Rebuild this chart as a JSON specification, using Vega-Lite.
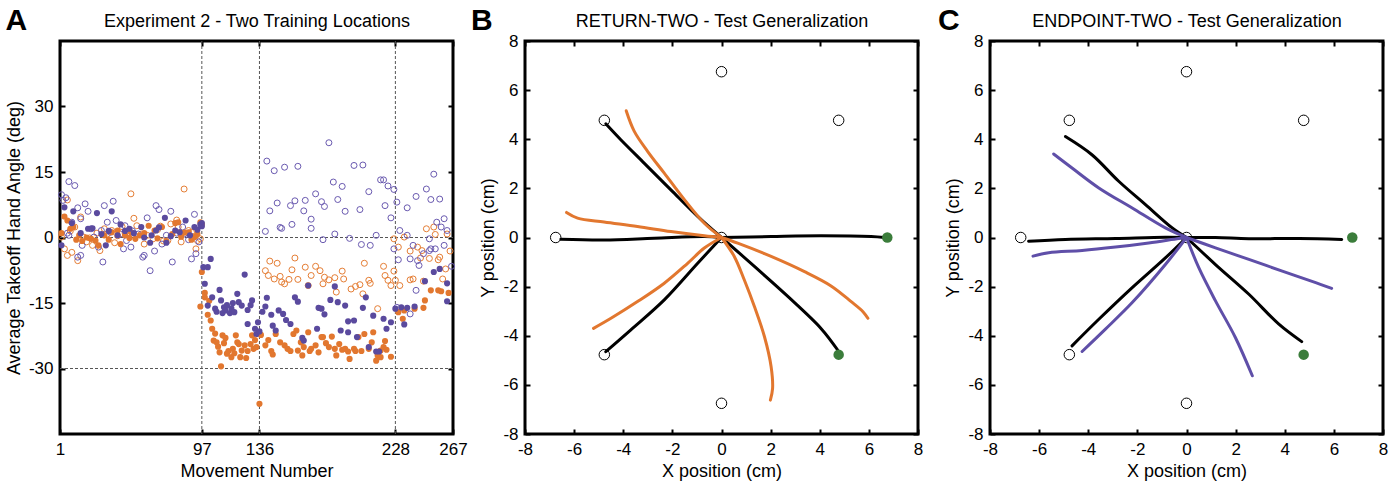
{
  "$schema": "https://vega.github.io/schema/vega-lite/v6.json",
  "background": "white",
  "padding": {"left": 3, "top": 4, "right": 10, "bottom": 1},
  "config": {
    "font": "Liberation Sans",
    "view": {"stroke": "black", "strokeWidth": 3},
    "axis": {"domain": false, "grid": false, "tickSize": -5, "tickWidth": 2, "tickColor": "black", "labelFontSize": 17, "labelColor": "black", "labelFlush": false, "labelOverlap": false, "labelBound": false, "titleFontSize": 18, "titleFontWeight": "normal", "titleColor": "black", "titlePadding": 5, "labelExpr": "replace(datum.label, '\u2212', '-')"},
    "axisX": {"labelPadding": 12},
    "axisY": {"labelPadding": 12},
    "title": {"fontSize": 30, "fontWeight": "bold", "color": "black", "anchor": "start", "frame": "bounds", "baseline": "alphabetic", "offset": -24}
  },
  "spacing": 72,
  "bounds": "flush",
  "resolve": {"scale": {"color": "independent"}},
  "datasets": {
    "gridV": [{"m": 97}, {"m": 136}, {"m": 228}],
    "gridH": [{"v": 0}, {"v": -30}],
    "returnProbe": [
      {"m":2,"v":0.1},{"m":4,"v":-2.6},{"m":6,"v":-4.1},{"m":6,"v":8.6},{"m":8,"v":1.5},{"m":9,"v":-3.4},{"m":11,"v":2.4},{"m":13,"v":-5.3},{"m":15,"v":4.7},{"m":17,"v":0.1},{"m":19,"v":-1.0},{"m":21,"v":-0.1},{"m":23,"v":-1.8},{"m":26,"v":1.0},{"m":28,"v":-3.0},{"m":31,"v":2.0},{"m":33,"v":0.8},{"m":36,"v":1.6},{"m":38,"v":-1.2},{"m":40,"v":0.4},{"m":43,"v":2.5},{"m":45,"v":1.1},{"m":49,"v":10.0},{"m":51,"v":4.4},{"m":53,"v":2.7},{"m":56,"v":0.8},{"m":58,"v":-1.5},{"m":60,"v":0.5},{"m":64,"v":-0.3},{"m":67,"v":1.8},{"m":69,"v":2.6},{"m":71,"v":-0.8},{"m":74,"v":-0.7},{"m":76,"v":3.1},{"m":80,"v":4.0},{"m":81,"v":2.4},{"m":83,"v":-1.0},{"m":85,"v":11.1},{"m":88,"v":1.6},{"m":90,"v":1.2},{"m":91,"v":0.2},{"m":93,"v":-2.6},{"m":94,"v":-0.7},{"m":96,"v":-0.3},
      {"m":140,"v":-7.6},{"m":142,"v":-8.7},{"m":143,"v":-5.4},{"m":146,"v":-9.5},{"m":148,"v":-5.9},{"m":150,"v":-8.9},{"m":151,"v":-10.2},{"m":153,"v":-10.6},{"m":156,"v":-9.6},{"m":158,"v":-7.4},{"m":160,"v":-4.7},{"m":162,"v":-9.6},{"m":167,"v":-6.8},{"m":169,"v":-11.0},{"m":171,"v":-8.7},{"m":174,"v":-6.6},{"m":177,"v":-7.6},{"m":179,"v":-10.6},{"m":180,"v":-9.1},{"m":183,"v":-9.7},{"m":187,"v":-9.2},{"m":188,"v":-12.5},{"m":192,"v":-7.7},{"m":193,"v":-9.5},{"m":198,"v":-11.8},{"m":201,"v":-11.2},{"m":204,"v":-10.8},{"m":206,"v":-12.9},{"m":207,"v":-5.9},{"m":210,"v":-9.8},{"m":211,"v":-10.5},{"m":216,"v":-16.3},{"m":220,"v":-6.6},{"m":221,"v":-8.7},{"m":223,"v":-9.8},{"m":225,"v":-11.0},{"m":227,"v":-7.7},{"m":227,"v":-0.3},{"m":228,"v":-9.8},{"m":230,"v":-2.2},{"m":231,"v":-11.0},{"m":234,"v":0.1},{"m":238,"v":-3.1},{"m":238,"v":-9.7},{"m":240,"v":-9.5},{"m":243,"v":-2.2},{"m":245,"v":-4.7},{"m":246,"v":-3.0},{"m":247,"v":-10.0},{"m":249,"v":2.0},{"m":251,"v":-4.8},{"m":254,"v":2.4},{"m":255,"v":0.7},{"m":257,"v":-5.1},{"m":258,"v":-4.5},{"m":260,"v":-9.5},{"m":262,"v":-7.2},{"m":263,"v":0.8},{"m":265,"v":-3.1}
    ],
    "endpointProbe": [
      {"m":2,"v":9.8},{"m":3,"v":8.5},{"m":5,"v":9.1},{"m":6,"v":1.0},{"m":7,"v":12.8},{"m":7,"v":0.5},{"m":9,"v":3.5},{"m":11,"v":11.9},{"m":13,"v":6.8},{"m":13,"v":-4.5},{"m":15,"v":4.3},{"m":15,"v":-4.1},{"m":16,"v":-1.8},{"m":18,"v":7.7},{"m":20,"v":6.0},{"m":22,"v":2.0},{"m":24,"v":0.1},{"m":27,"v":-2.2},{"m":29,"v":1.6},{"m":30,"v":-5.6},{"m":31,"v":7.3},{"m":33,"v":3.5},{"m":35,"v":1.2},{"m":37,"v":8.3},{"m":39,"v":3.9},{"m":42,"v":0.8},{"m":44,"v":-2.6},{"m":45,"v":2.7},{"m":46,"v":-0.7},{"m":49,"v":-2.2},{"m":50,"v":1.5},{"m":54,"v":0.8},{"m":57,"v":-4.5},{"m":58,"v":-4.1},{"m":60,"v":4.5},{"m":62,"v":-7.6},{"m":65,"v":-3.1},{"m":66,"v":7.3},{"m":68,"v":6.4},{"m":70,"v":-1.5},{"m":73,"v":0.5},{"m":76,"v":6.0},{"m":77,"v":-5.6},{"m":80,"v":1.0},{"m":84,"v":2.4},{"m":85,"v":0.8},{"m":88,"v":-0.5},{"m":90,"v":-4.9},{"m":92,"v":5.3},{"m":93,"v":-3.7},{"m":95,"v":-1.0},
      {"m":140,"v":1.4},{"m":141,"v":17.5},{"m":143,"v":6.1},{"m":146,"v":15.3},{"m":148,"v":7.9},{"m":150,"v":2.3},{"m":151,"v":2.1},{"m":153,"v":16.1},{"m":157,"v":7.3},{"m":158,"v":3.0},{"m":160,"v":8.4},{"m":162,"v":16.3},{"m":166,"v":6.1},{"m":167,"v":8.5},{"m":171,"v":4.2},{"m":171,"v":2.1},{"m":174,"v":10.0},{"m":178,"v":8.2},{"m":179,"v":-0.5},{"m":180,"v":7.1},{"m":183,"v":21.7},{"m":186,"v":12.7},{"m":187,"v":0.8},{"m":189,"v":8.7},{"m":192,"v":11.7},{"m":194,"v":6.0},{"m":197,"v":-0.2},{"m":200,"v":16.5},{"m":204,"v":6.4},{"m":205,"v":-1.6},{"m":206,"v":16.6},{"m":210,"v":10.5},{"m":211,"v":-1.8},{"m":215,"v":0.5},{"m":218,"v":13.2},{"m":220,"v":13.2},{"m":221,"v":7.3},{"m":223,"v":11.8},{"m":225,"v":4.5},{"m":227,"v":11.0},{"m":227,"v":-2.6},{"m":229,"v":8.1},{"m":229,"v":-16.0},{"m":230,"v":-5.1},{"m":231,"v":1.6},{"m":236,"v":6.8},{"m":236,"v":0.5},{"m":238,"v":-4.9},{"m":238,"v":-17.5},{"m":240,"v":-1.8},{"m":242,"v":9.4},{"m":242,"v":-12.1},{"m":243,"v":-5.3},{"m":244,"v":-6.4},{"m":247,"v":-3.7},{"m":249,"v":11.1},{"m":251,"v":-0.3},{"m":251,"v":-3.0},{"m":252,"v":8.7},{"m":252,"v":-2.6},{"m":254,"v":14.5},{"m":255,"v":-2.6},{"m":256,"v":3.5},{"m":258,"v":8.8},{"m":259,"v":2.4},{"m":261,"v":4.3},{"m":261,"v":-1.8},{"m":263,"v":1.6},{"m":266,"v":-6.6}
    ],
    "returnTrain": [
      {"m":2,"v":1.0},{"m":4,"v":4.8},{"m":6,"v":3.9},{"m":8,"v":2.0},{"m":10,"v":2.4},{"m":12,"v":-0.5},{"m":14,"v":0.5},{"m":16,"v":-0.8},{"m":19,"v":0.0},{"m":22,"v":-0.3},{"m":25,"v":-0.7},{"m":27,"v":-1.8},{"m":31,"v":0.5},{"m":34,"v":-0.5},{"m":36,"v":1.2},{"m":40,"v":1.6},{"m":42,"v":-1.5},{"m":45,"v":0.5},{"m":48,"v":-0.1},{"m":49,"v":1.2},{"m":52,"v":-0.3},{"m":55,"v":0.5},{"m":58,"v":1.0},{"m":61,"v":2.7},{"m":65,"v":1.6},{"m":67,"v":-0.2},{"m":70,"v":2.4},{"m":73,"v":-0.8},{"m":77,"v":0.8},{"m":79,"v":3.3},{"m":81,"v":3.5},{"m":83,"v":0.2},{"m":85,"v":1.1},{"m":88,"v":1.2},{"m":90,"v":-0.5},{"m":92,"v":0.1},{"m":94,"v":0.8},{"m":96,"v":3.5},{"m":97,"v":3.0},
      {"m":97,"v":-7.9},{"m":96,"v":-15.8},{"m":99,"v":-12.7},{"m":99,"v":-13.7},{"m":101,"v":-17.7},{"m":102,"v":-14.5},{"m":103,"v":-19.0},{"m":104,"v":-20.9},{"m":105,"v":-23.6},{"m":106,"v":-22.0},{"m":107,"v":-24.0},{"m":108,"v":-25.0},{"m":109,"v":-26.3},{"m":110,"v":-29.5},{"m":111,"v":-22.4},{"m":112,"v":-24.2},{"m":113,"v":-23.0},{"m":114,"v":-26.6},{"m":115,"v":-26.0},{"m":117,"v":-27.4},{"m":118,"v":-25.5},{"m":119,"v":-26.5},{"m":120,"v":-22.4},{"m":121,"v":-24.0},{"m":122,"v":-24.4},{"m":123,"v":-27.4},{"m":124,"v":-25.9},{"m":126,"v":-24.7},{"m":127,"v":-27.6},{"m":128,"v":-26.0},{"m":130,"v":-24.4},{"m":131,"v":-22.4},{"m":132,"v":-25.5},{"m":133,"v":-23.5},{"m":134,"v":-25.1},{"m":136,"v":-38.1},{"m":137,"v":-22.3},{"m":140,"v":-24.7},{"m":142,"v":-23.5},{"m":144,"v":-26.0},{"m":145,"v":-26.8},{"m":147,"v":-22.1},{"m":150,"v":-24.0},{"m":153,"v":-24.7},{"m":155,"v":-25.5},{"m":157,"v":-26.0},{"m":159,"v":-22.1},{"m":161,"v":-21.3},{"m":162,"v":-25.9},{"m":164,"v":-24.0},{"m":165,"v":-27.0},{"m":166,"v":-25.1},{"m":169,"v":-21.7},{"m":170,"v":-26.0},{"m":171,"v":-25.5},{"m":174,"v":-24.7},{"m":176,"v":-26.3},{"m":178,"v":-22.8},{"m":179,"v":-22.8},{"m":181,"v":-24.2},{"m":183,"v":-25.1},{"m":185,"v":-22.7},{"m":187,"v":-25.5},{"m":188,"v":-27.0},{"m":190,"v":-24.4},{"m":192,"v":-25.7},{"m":194,"v":-25.5},{"m":196,"v":-26.1},{"m":197,"v":-27.8},{"m":200,"v":-25.5},{"m":201,"v":-26.0},{"m":203,"v":-22.8},{"m":205,"v":-26.0},{"m":207,"v":-22.1},{"m":210,"v":-25.5},{"m":212,"v":-24.0},{"m":213,"v":-21.7},{"m":215,"v":-28.2},{"m":216,"v":-27.0},{"m":218,"v":-25.9},{"m":218,"v":-27.4},{"m":220,"v":-25.1},{"m":221,"v":-23.7},{"m":222,"v":-25.7},{"m":225,"v":-27.3},
      {"m":230,"v":-17.1},{"m":233,"v":-18.6},{"m":234,"v":-16.7},{"m":241,"v":-16.3},{"m":247,"v":-16.1},{"m":248,"v":-14.4},{"m":252,"v":-12.1},{"m":257,"v":-12.1},{"m":259,"v":-12.3},{"m":264,"v":-12.7}
    ],
    "endpointTrain": [
      {"m":2,"v":-1.8},{"m":4,"v":6.9},{"m":9,"v":3.3},{"m":10,"v":6.0},{"m":15,"v":1.0},{"m":20,"v":2.0},{"m":23,"v":2.1},{"m":26,"v":5.6},{"m":29,"v":0.8},{"m":32,"v":-1.8},{"m":34,"v":1.5},{"m":36,"v":6.0},{"m":40,"v":0.5},{"m":42,"v":3.0},{"m":45,"v":1.5},{"m":48,"v":2.0},{"m":51,"v":1.0},{"m":56,"v":2.4},{"m":58,"v":0.0},{"m":62,"v":-1.2},{"m":63,"v":0.5},{"m":66,"v":1.6},{"m":68,"v":2.3},{"m":72,"v":4.5},{"m":73,"v":-1.2},{"m":76,"v":0.3},{"m":79,"v":1.6},{"m":82,"v":1.2},{"m":86,"v":3.9},{"m":89,"v":0.5},{"m":92,"v":2.4},{"m":94,"v":1.8},{"m":96,"v":3.0},{"m":97,"v":3.3},{"m":97,"v":2.6},
      {"m":98,"v":-6.8},{"m":99,"v":-10.6},{"m":101,"v":-6.8},{"m":103,"v":-4.9},{"m":101,"v":-15.6},{"m":104,"v":-13.7},{"m":106,"v":-16.3},{"m":107,"v":-17.0},{"m":109,"v":-12.0},{"m":110,"v":-14.4},{"m":111,"v":-17.3},{"m":112,"v":-16.0},{"m":113,"v":-16.7},{"m":114,"v":-15.5},{"m":116,"v":-17.3},{"m":117,"v":-16.2},{"m":118,"v":-15.0},{"m":119,"v":-17.1},{"m":121,"v":-12.9},{"m":122,"v":-14.8},{"m":124,"v":-15.6},{"m":126,"v":-8.5},{"m":128,"v":-16.6},{"m":128,"v":-19.8},{"m":130,"v":-15.5},{"m":131,"v":-14.4},{"m":133,"v":-20.9},{"m":134,"v":-22.1},{"m":135,"v":-19.4},{"m":136,"v":-21.5},{"m":138,"v":-17.0},{"m":140,"v":-15.8},{"m":141,"v":-13.8},{"m":144,"v":-17.7},{"m":145,"v":-20.2},{"m":147,"v":-21.3},{"m":149,"v":-16.7},{"m":152,"v":-17.5},{"m":154,"v":-18.9},{"m":157,"v":-19.8},{"m":160,"v":-13.7},{"m":162,"v":-14.7},{"m":165,"v":-23.0},{"m":166,"v":-23.6},{"m":169,"v":-11.0},{"m":175,"v":-20.9},{"m":176,"v":-16.1},{"m":178,"v":-16.3},{"m":180,"v":-17.6},{"m":184,"v":-14.3},{"m":187,"v":-11.2},{"m":189,"v":-14.8},{"m":191,"v":-21.3},{"m":194,"v":-15.6},{"m":196,"v":-21.7},{"m":196,"v":-19.2},{"m":200,"v":-19.0},{"m":202,"v":-22.8},{"m":206,"v":-16.1},{"m":208,"v":-13.7},{"m":210,"v":-25.1},{"m":213,"v":-17.9},{"m":215,"v":-26.1},{"m":217,"v":-26.1},{"m":220,"v":-18.6},{"m":222,"v":-20.9},{"m":225,"v":-19.4},
      {"m":228,"v":-16.3},{"m":232,"v":-16.0},{"m":234,"v":-19.9},{"m":236,"v":-16.1},{"m":241,"v":-15.8},{"m":248,"v":-10.0},{"m":254,"v":-7.9},{"m":258,"v":-7.2},{"m":263,"v":-10.5},{"m":263,"v":-14.6}
    ],
    "targets": [
      {"x":0,"y":6.75,"status":"untrained"},{"x":4.77,"y":4.77,"status":"untrained"},{"x":-4.77,"y":4.77,"status":"untrained"},{"x":-6.75,"y":0,"status":"untrained"},{"x":-4.77,"y":-4.77,"status":"untrained"},{"x":0,"y":-6.75,"status":"untrained"},{"x":0,"y":0,"status":"start"},{"x":6.75,"y":0,"status":"trained"},{"x":4.77,"y":-4.77,"status":"trained"}
    ],
    "traj": [
      {"p":"RETURN","id":"b1","kind":"baseline","i":0,"x":0,"y":0},{"p":"RETURN","id":"b1","kind":"baseline","i":1,"x":-0.97,"y":0.86},{"p":"RETURN","id":"b1","kind":"baseline","i":2,"x":-2.06,"y":1.94},{"p":"RETURN","id":"b1","kind":"baseline","i":3,"x":-3.15,"y":3.03},{"p":"RETURN","id":"b1","kind":"baseline","i":4,"x":-4.1,"y":3.98},{"p":"RETURN","id":"b1","kind":"baseline","i":5,"x":-4.71,"y":4.63},
      {"p":"RETURN","id":"b2","kind":"baseline","i":0,"x":0,"y":0},{"p":"RETURN","id":"b2","kind":"baseline","i":1,"x":-0.7,"y":0.04},{"p":"RETURN","id":"b2","kind":"baseline","i":2,"x":-2.74,"y":-0.03},{"p":"RETURN","id":"b2","kind":"baseline","i":3,"x":-4.78,"y":-0.1},{"p":"RETURN","id":"b2","kind":"baseline","i":4,"x":-6.54,"y":-0.07},
      {"p":"RETURN","id":"b3","kind":"baseline","i":0,"x":0,"y":0},{"p":"RETURN","id":"b3","kind":"baseline","i":1,"x":2.02,"y":0.04},{"p":"RETURN","id":"b3","kind":"baseline","i":2,"x":4.05,"y":0.07},{"p":"RETURN","id":"b3","kind":"baseline","i":3,"x":6.09,"y":0.04},{"p":"RETURN","id":"b3","kind":"baseline","i":4,"x":6.63,"y":0.0},
      {"p":"RETURN","id":"b4","kind":"baseline","i":0,"x":0,"y":0},{"p":"RETURN","id":"b4","kind":"baseline","i":1,"x":1.34,"y":-1.18},{"p":"RETURN","id":"b4","kind":"baseline","i":2,"x":2.7,"y":-2.4},{"p":"RETURN","id":"b4","kind":"baseline","i":3,"x":4.05,"y":-3.7},{"p":"RETURN","id":"b4","kind":"baseline","i":4,"x":4.73,"y":-4.58},
      {"p":"RETURN","id":"b5","kind":"baseline","i":0,"x":0,"y":0},{"p":"RETURN","id":"b5","kind":"baseline","i":1,"x":-0.97,"y":-1.05},{"p":"RETURN","id":"b5","kind":"baseline","i":2,"x":-2.33,"y":-2.54},{"p":"RETURN","id":"b5","kind":"baseline","i":3,"x":-3.69,"y":-3.76},{"p":"RETURN","id":"b5","kind":"baseline","i":4,"x":-4.71,"y":-4.65},
      {"p":"RETURN","id":"o1","kind":"generalization","i":0,"x":0,"y":0},{"p":"RETURN","id":"o1","kind":"generalization","i":1,"x":-0.7,"y":0.58},{"p":"RETURN","id":"o1","kind":"generalization","i":2,"x":-1.51,"y":1.54},{"p":"RETURN","id":"o1","kind":"generalization","i":3,"x":-2.33,"y":2.62},{"p":"RETURN","id":"o1","kind":"generalization","i":4,"x":-3.01,"y":3.51},{"p":"RETURN","id":"o1","kind":"generalization","i":5,"x":-3.55,"y":4.32},{"p":"RETURN","id":"o1","kind":"generalization","i":6,"x":-3.88,"y":5.16},
      {"p":"RETURN","id":"o2","kind":"generalization","i":0,"x":0,"y":0},{"p":"RETURN","id":"o2","kind":"generalization","i":1,"x":-0.7,"y":0.07},{"p":"RETURN","id":"o2","kind":"generalization","i":2,"x":-2.06,"y":0.24},{"p":"RETURN","id":"o2","kind":"generalization","i":3,"x":-3.42,"y":0.45},{"p":"RETURN","id":"o2","kind":"generalization","i":4,"x":-4.78,"y":0.63},{"p":"RETURN","id":"o2","kind":"generalization","i":5,"x":-5.86,"y":0.79},{"p":"RETURN","id":"o2","kind":"generalization","i":6,"x":-6.31,"y":1.02},
      {"p":"RETURN","id":"o3","kind":"generalization","i":0,"x":0,"y":0},{"p":"RETURN","id":"o3","kind":"generalization","i":1,"x":-0.7,"y":-0.43},{"p":"RETURN","id":"o3","kind":"generalization","i":2,"x":-1.38,"y":-1.05},{"p":"RETURN","id":"o3","kind":"generalization","i":3,"x":-2.33,"y":-1.86},{"p":"RETURN","id":"o3","kind":"generalization","i":4,"x":-3.42,"y":-2.61},{"p":"RETURN","id":"o3","kind":"generalization","i":5,"x":-4.5,"y":-3.29},{"p":"RETURN","id":"o3","kind":"generalization","i":6,"x":-5.21,"y":-3.7},
      {"p":"RETURN","id":"o4","kind":"generalization","i":0,"x":0,"y":0},{"p":"RETURN","id":"o4","kind":"generalization","i":1,"x":0.52,"y":-0.77},{"p":"RETURN","id":"o4","kind":"generalization","i":2,"x":0.93,"y":-1.73},{"p":"RETURN","id":"o4","kind":"generalization","i":3,"x":1.34,"y":-2.81},{"p":"RETURN","id":"o4","kind":"generalization","i":4,"x":1.75,"y":-4.04},{"p":"RETURN","id":"o4","kind":"generalization","i":5,"x":2.02,"y":-5.26},{"p":"RETURN","id":"o4","kind":"generalization","i":6,"x":2.08,"y":-6.14},{"p":"RETURN","id":"o4","kind":"generalization","i":7,"x":1.99,"y":-6.62},
      {"p":"RETURN","id":"o5","kind":"generalization","i":0,"x":0,"y":0},{"p":"RETURN","id":"o5","kind":"generalization","i":1,"x":0.66,"y":-0.23},{"p":"RETURN","id":"o5","kind":"generalization","i":2,"x":2.02,"y":-0.77},{"p":"RETURN","id":"o5","kind":"generalization","i":3,"x":3.38,"y":-1.39},{"p":"RETURN","id":"o5","kind":"generalization","i":4,"x":4.46,"y":-1.97},{"p":"RETURN","id":"o5","kind":"generalization","i":5,"x":5.28,"y":-2.61},{"p":"RETURN","id":"o5","kind":"generalization","i":6,"x":5.76,"y":-3.02},{"p":"RETURN","id":"o5","kind":"generalization","i":7,"x":5.96,"y":-3.29},
      {"p":"ENDPOINT","id":"k1","kind":"baseline","i":0,"x":0,"y":0},{"p":"ENDPOINT","id":"k1","kind":"baseline","i":1,"x":-0.58,"y":0.39},{"p":"ENDPOINT","id":"k1","kind":"baseline","i":2,"x":-1.67,"y":1.34},{"p":"ENDPOINT","id":"k1","kind":"baseline","i":3,"x":-2.76,"y":2.29},{"p":"ENDPOINT","id":"k1","kind":"baseline","i":4,"x":-3.85,"y":3.37},{"p":"ENDPOINT","id":"k1","kind":"baseline","i":5,"x":-4.93,"y":4.11},
      {"p":"ENDPOINT","id":"k2","kind":"baseline","i":0,"x":0,"y":0},{"p":"ENDPOINT","id":"k2","kind":"baseline","i":1,"x":-0.86,"y":0.01},{"p":"ENDPOINT","id":"k2","kind":"baseline","i":2,"x":-2.89,"y":-0.04},{"p":"ENDPOINT","id":"k2","kind":"baseline","i":3,"x":-4.93,"y":-0.08},{"p":"ENDPOINT","id":"k2","kind":"baseline","i":4,"x":-6.43,"y":-0.15},
      {"p":"ENDPOINT","id":"k3","kind":"baseline","i":0,"x":0,"y":0},{"p":"ENDPOINT","id":"k3","kind":"baseline","i":1,"x":1.18,"y":0.0},{"p":"ENDPOINT","id":"k3","kind":"baseline","i":2,"x":2.54,"y":-0.05},{"p":"ENDPOINT","id":"k3","kind":"baseline","i":3,"x":4.58,"y":-0.04},{"p":"ENDPOINT","id":"k3","kind":"baseline","i":4,"x":6.32,"y":-0.08},
      {"p":"ENDPOINT","id":"k4","kind":"baseline","i":0,"x":0,"y":0},{"p":"ENDPOINT","id":"k4","kind":"baseline","i":1,"x":1.18,"y":-1.1},{"p":"ENDPOINT","id":"k4","kind":"baseline","i":2,"x":2.54,"y":-2.31},{"p":"ENDPOINT","id":"k4","kind":"baseline","i":3,"x":3.76,"y":-3.53},{"p":"ENDPOINT","id":"k4","kind":"baseline","i":4,"x":4.69,"y":-4.24},
      {"p":"ENDPOINT","id":"k5","kind":"baseline","i":0,"x":0,"y":0},{"p":"ENDPOINT","id":"k5","kind":"baseline","i":1,"x":-0.86,"y":-0.83},{"p":"ENDPOINT","id":"k5","kind":"baseline","i":2,"x":-2.21,"y":-2.04},{"p":"ENDPOINT","id":"k5","kind":"baseline","i":3,"x":-3.57,"y":-3.33},{"p":"ENDPOINT","id":"k5","kind":"baseline","i":4,"x":-4.66,"y":-4.41},
      {"p":"ENDPOINT","id":"p1","kind":"generalization","i":0,"x":0,"y":0},{"p":"ENDPOINT","id":"p1","kind":"generalization","i":1,"x":-0.86,"y":0.39},{"p":"ENDPOINT","id":"p1","kind":"generalization","i":2,"x":-2.21,"y":1.2},{"p":"ENDPOINT","id":"p1","kind":"generalization","i":3,"x":-3.57,"y":2.02},{"p":"ENDPOINT","id":"p1","kind":"generalization","i":4,"x":-4.66,"y":2.83},{"p":"ENDPOINT","id":"p1","kind":"generalization","i":5,"x":-5.41,"y":3.4},
      {"p":"ENDPOINT","id":"p2","kind":"generalization","i":0,"x":0,"y":0},{"p":"ENDPOINT","id":"p2","kind":"generalization","i":1,"x":-0.31,"y":-0.04},{"p":"ENDPOINT","id":"p2","kind":"generalization","i":2,"x":-1.54,"y":-0.22},{"p":"ENDPOINT","id":"p2","kind":"generalization","i":3,"x":-2.89,"y":-0.39},{"p":"ENDPOINT","id":"p2","kind":"generalization","i":4,"x":-4.25,"y":-0.53},{"p":"ENDPOINT","id":"p2","kind":"generalization","i":5,"x":-5.61,"y":-0.62},{"p":"ENDPOINT","id":"p2","kind":"generalization","i":6,"x":-6.25,"y":-0.76},
      {"p":"ENDPOINT","id":"p3","kind":"generalization","i":0,"x":0,"y":0},{"p":"ENDPOINT","id":"p3","kind":"generalization","i":1,"x":-0.86,"y":-1.1},{"p":"ENDPOINT","id":"p3","kind":"generalization","i":2,"x":-2.21,"y":-2.65},{"p":"ENDPOINT","id":"p3","kind":"generalization","i":3,"x":-3.3,"y":-3.73},{"p":"ENDPOINT","id":"p3","kind":"generalization","i":4,"x":-4.25,"y":-4.64},
      {"p":"ENDPOINT","id":"p4","kind":"generalization","i":0,"x":0,"y":0},{"p":"ENDPOINT","id":"p4","kind":"generalization","i":1,"x":0.5,"y":-1.23},{"p":"ENDPOINT","id":"p4","kind":"generalization","i":2,"x":1.18,"y":-2.58},{"p":"ENDPOINT","id":"p4","kind":"generalization","i":3,"x":1.99,"y":-4.07},{"p":"ENDPOINT","id":"p4","kind":"generalization","i":4,"x":2.68,"y":-5.63},
      {"p":"ENDPOINT","id":"p5","kind":"generalization","i":0,"x":0,"y":0},{"p":"ENDPOINT","id":"p5","kind":"generalization","i":1,"x":1.18,"y":-0.42},{"p":"ENDPOINT","id":"p5","kind":"generalization","i":2,"x":2.54,"y":-0.89},{"p":"ENDPOINT","id":"p5","kind":"generalization","i":3,"x":3.9,"y":-1.37},{"p":"ENDPOINT","id":"p5","kind":"generalization","i":4,"x":5.26,"y":-1.84},{"p":"ENDPOINT","id":"p5","kind":"generalization","i":5,"x":5.91,"y":-2.07}
    ]
  },
  "hconcat": [
    {
      "width": 393, "height": 393,
      "title": {"text": "A"},
      "resolve": {"axis": {"x": "independent", "y": "independent"}},
      "layer": [
        {
          "data": {"name": "gridV"},
          "mark": {"type": "rule", "color": "#555555", "strokeWidth": 1, "strokeDash": [3, 2]},
          "encoding": {
            "x": {"field": "m", "type": "quantitative", "scale": {"domain": [1, 267], "nice": false, "zero": false},
                  "axis": {"orient": "top", "values": [1, 97, 136, 228, 267], "labels": false, "title": "Experiment 2 - Two Training Locations", "titlePadding": 10}}
          }
        },
        {
          "data": {"name": "gridH"},
          "mark": {"type": "rule", "color": "#555555", "strokeWidth": 1, "strokeDash": [3, 2]},
          "encoding": {
            "y": {"field": "v", "type": "quantitative", "scale": {"domain": [-45, 45], "nice": false, "zero": false},
                  "axis": {"orient": "right", "values": [-30, -15, 0, 15, 30], "labels": false, "title": null}}
          }
        },
        {
          "data": {"name": "returnProbe"},
          "mark": {"type": "point", "shape": "circle", "filled": false, "strokeWidth": 1, "size": 36, "opacity": 1, "color": "#E57E35"},
          "encoding": {
            "x": {"field": "m", "type": "quantitative", "scale": {"domain": [1, 267], "nice": false, "zero": false},
                  "axis": {"orient": "bottom", "values": [1, 97, 136, 228, 267], "title": "Movement Number"}},
            "y": {"field": "v", "type": "quantitative", "scale": {"domain": [-45, 45], "nice": false, "zero": false},
                  "axis": {"orient": "left", "values": [-30, -15, 0, 15, 30], "title": "Average Takeoff Hand Angle (deg)"}}
          }
        },
        {
          "data": {"name": "endpointProbe"},
          "mark": {"type": "point", "shape": "circle", "filled": false, "strokeWidth": 1, "size": 36, "opacity": 1, "color": "#6A5AB0"},
          "encoding": {
            "x": {"field": "m", "type": "quantitative", "scale": {"domain": [1, 267], "nice": false, "zero": false}, "axis": null},
            "y": {"field": "v", "type": "quantitative", "scale": {"domain": [-45, 45], "nice": false, "zero": false}, "axis": null}
          }
        },
        {
          "data": {"name": "returnTrain"},
          "mark": {"type": "point", "shape": "circle", "filled": true, "size": 38, "opacity": 1, "color": "#E2772F"},
          "encoding": {
            "x": {"field": "m", "type": "quantitative", "scale": {"domain": [1, 267], "nice": false, "zero": false}, "axis": null},
            "y": {"field": "v", "type": "quantitative", "scale": {"domain": [-45, 45], "nice": false, "zero": false}, "axis": null}
          }
        },
        {
          "data": {"name": "endpointTrain"},
          "mark": {"type": "point", "shape": "circle", "filled": true, "size": 38, "opacity": 1, "color": "#5A4A9E"},
          "encoding": {
            "x": {"field": "m", "type": "quantitative", "scale": {"domain": [1, 267], "nice": false, "zero": false}, "axis": null},
            "y": {"field": "v", "type": "quantitative", "scale": {"domain": [-45, 45], "nice": false, "zero": false}, "axis": null}
          }
        }
      ]
    },
    {
      "width": 393, "height": 393,
      "title": {"text": "B", "dx": -9},
      "resolve": {"axis": {"x": "independent", "y": "independent"}},
      "layer": [
        {
          "data": {"name": "targets"},
          "transform": [{"filter": "datum.status !== 'trained'"}],
          "mark": {"type": "point", "shape": "circle", "filled": true, "fill": "white", "stroke": "black", "strokeWidth": 1, "size": 110, "opacity": 1},
          "encoding": {
            "x": {"field": "x", "type": "quantitative", "scale": {"domain": [-8, 8], "nice": false, "zero": false},
                  "axis": {"orient": "top", "values": [-8, -6, -4, -2, 0, 2, 4, 6, 8], "labels": false, "title": "RETURN-TWO - Test Generalization", "titlePadding": 10}},
            "y": {"field": "y", "type": "quantitative", "scale": {"domain": [-8, 8], "nice": false, "zero": false},
                  "axis": {"orient": "right", "values": [-8, -6, -4, -2, 0, 2, 4, 6, 8], "labels": false, "title": null}}
          }
        },
        {
          "data": {"name": "traj"},
          "transform": [{"filter": "datum.p === 'RETURN'"}],
          "mark": {"type": "line", "strokeWidth": 3, "interpolate": "catmull-rom", "strokeCap": "round"},
          "encoding": {
            "x": {"field": "x", "type": "quantitative", "scale": {"domain": [-8, 8], "nice": false, "zero": false},
                  "axis": {"orient": "bottom", "values": [-8, -6, -4, -2, 0, 2, 4, 6, 8], "title": "X position (cm)"}},
            "y": {"field": "y", "type": "quantitative", "scale": {"domain": [-8, 8], "nice": false, "zero": false},
                  "axis": {"orient": "left", "values": [-8, -6, -4, -2, 0, 2, 4, 6, 8], "title": "Y position (cm)"}},
            "color": {"field": "kind", "type": "nominal", "scale": {"domain": ["baseline", "generalization"], "range": ["black", "#E2772F"]}, "legend": null},
            "detail": {"field": "id"},
            "order": {"field": "i", "type": "quantitative"}
          }
        },
        {
          "data": {"name": "targets"},
          "transform": [{"filter": "datum.status === 'trained'"}],
          "mark": {"type": "point", "shape": "circle", "filled": true, "color": "#3B7D3B", "size": 110, "opacity": 1},
          "encoding": {
            "x": {"field": "x", "type": "quantitative", "scale": {"domain": [-8, 8], "nice": false, "zero": false}, "axis": null},
            "y": {"field": "y", "type": "quantitative", "scale": {"domain": [-8, 8], "nice": false, "zero": false}, "axis": null}
          }
        }
      ]
    },
    {
      "width": 393, "height": 393,
      "title": {"text": "C", "dx": -7},
      "resolve": {"axis": {"x": "independent", "y": "independent"}},
      "layer": [
        {
          "data": {"name": "targets"},
          "transform": [{"filter": "datum.status !== 'trained'"}],
          "mark": {"type": "point", "shape": "circle", "filled": true, "fill": "white", "stroke": "black", "strokeWidth": 1, "size": 110, "opacity": 1},
          "encoding": {
            "x": {"field": "x", "type": "quantitative", "scale": {"domain": [-8, 8], "nice": false, "zero": false},
                  "axis": {"orient": "top", "values": [-8, -6, -4, -2, 0, 2, 4, 6, 8], "labels": false, "title": "ENDPOINT-TWO - Test Generalization", "titlePadding": 10}},
            "y": {"field": "y", "type": "quantitative", "scale": {"domain": [-8, 8], "nice": false, "zero": false},
                  "axis": {"orient": "right", "values": [-8, -6, -4, -2, 0, 2, 4, 6, 8], "labels": false, "title": null}}
          }
        },
        {
          "data": {"name": "traj"},
          "transform": [{"filter": "datum.p === 'ENDPOINT'"}],
          "mark": {"type": "line", "strokeWidth": 3, "interpolate": "catmull-rom", "strokeCap": "round"},
          "encoding": {
            "x": {"field": "x", "type": "quantitative", "scale": {"domain": [-8, 8], "nice": false, "zero": false},
                  "axis": {"orient": "bottom", "values": [-8, -6, -4, -2, 0, 2, 4, 6, 8], "title": "X position (cm)"}},
            "y": {"field": "y", "type": "quantitative", "scale": {"domain": [-8, 8], "nice": false, "zero": false},
                  "axis": {"orient": "left", "values": [-8, -6, -4, -2, 0, 2, 4, 6, 8], "title": "Y position (cm)"}},
            "color": {"field": "kind", "type": "nominal", "scale": {"domain": ["baseline", "generalization"], "range": ["black", "#5F4FA8"]}, "legend": null},
            "detail": {"field": "id"},
            "order": {"field": "i", "type": "quantitative"}
          }
        },
        {
          "data": {"name": "targets"},
          "transform": [{"filter": "datum.status === 'trained'"}],
          "mark": {"type": "point", "shape": "circle", "filled": true, "color": "#3B7D3B", "size": 110, "opacity": 1},
          "encoding": {
            "x": {"field": "x", "type": "quantitative", "scale": {"domain": [-8, 8], "nice": false, "zero": false}, "axis": null},
            "y": {"field": "y", "type": "quantitative", "scale": {"domain": [-8, 8], "nice": false, "zero": false}, "axis": null}
          }
        }
      ]
    }
  ]
}
